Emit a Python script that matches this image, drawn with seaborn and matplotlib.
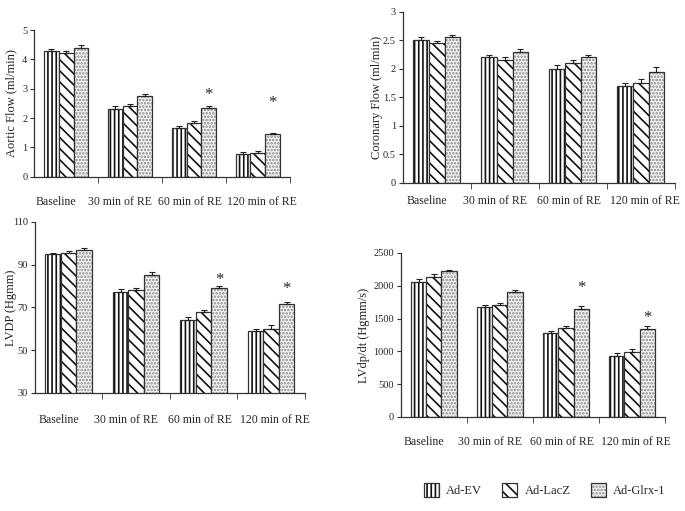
import numpy as np
import pandas as pd
import matplotlib
matplotlib.use("Agg")
import matplotlib.pyplot as plt
import matplotlib.colors as mcolors
from matplotlib.patches import Patch
from matplotlib.transforms import ScaledTranslation
import seaborn as sns

categories = ["Baseline", "30 min of RE", "60 min of RE", "120 min of RE"]
groups = ["Ad-EV", "Ad-LacZ", "Ad-Glrx-1"]

aortic_ev = [4.30, 2.32, 1.67, 0.78]
aortic_lacz = [4.23, 2.42, 1.82, 0.82]
aortic_glrx = [4.40, 2.75, 2.33, 1.45]
aortic_err = [[0.07, 0.08, 0.06, 0.05], [0.06, 0.06, 0.08, 0.05], [0.08, 0.09, 0.09, 0.06]]
aortic_star = [None, None, 2.78, 2.5]

coronary_ev = [2.50, 2.20, 2.00, 1.70]
coronary_lacz = [2.46, 2.15, 2.10, 1.75]
coronary_glrx = [2.55, 2.30, 2.20, 1.95]
coronary_err = [[0.05, 0.04, 0.07, 0.06], [0.03, 0.05, 0.05, 0.08], [0.05, 0.04, 0.05, 0.09]]
coronary_star = [None, None, None, None]

lvdp_ev = [95.0, 77.0, 64.0, 59.0]
lvdp_lacz = [95.5, 78.0, 68.0, 60.0]
lvdp_glrx = [97.0, 85.0, 79.0, 71.5]
lvdp_err = [[0.6, 1.5, 1.3, 0.8], [1.0, 0.9, 0.6, 1.8], [0.8, 1.5, 0.9, 1.2]]
lvdp_star = [None, None, 83.0, 78.5]

dpdt_ev = [2060, 1680, 1280, 930]
dpdt_lacz = [2130, 1710, 1360, 990]
dpdt_glrx = [2220, 1900, 1650, 1340]
dpdt_err = [[40, 25, 30, 40], [50, 25, 30, 40], [25, 35, 40, 40]]
dpdt_star = [None, None, 1960, 1510]

panels = [
    dict(vals=[aortic_ev, aortic_lacz, aortic_glrx], err=aortic_err, star=aortic_star,
         ylabel="Aortic Flow (ml/min)", yticks=[0, 1, 2, 3, 4, 5], ylim=(0, 5),
         ticklabels=["0", "1", "2", "3", "4", "5"],
         rect=[0.050, 0.654, 0.373, 0.287], labx=-0.066, pad=14),
    dict(vals=[coronary_ev, coronary_lacz, coronary_glrx], err=coronary_err, star=coronary_star,
         ylabel="Coronary Flow (ml/min)", yticks=[0, 0.5, 1, 1.5, 2, 2.5, 3], ylim=(0, 3),
         ticklabels=["0", "0.5", "1", "1.5", "2", "2.5", "3"],
         rect=[0.588, 0.642, 0.397, 0.335], labx=-0.074, pad=9),
    dict(vals=[lvdp_ev, lvdp_lacz, lvdp_glrx], err=lvdp_err, star=lvdp_star,
         ylabel="LVDP (Hgmm)", yticks=[30, 50, 70, 90, 110], ylim=(30, 110),
         ticklabels=["30", "50", "70", "90", "110"],
         rect=[0.051, 0.231, 0.394, 0.335], labx=-0.067, pad=15),
    dict(vals=[dpdt_ev, dpdt_lacz, dpdt_glrx], err=dpdt_err, star=dpdt_star,
         ylabel="LVdp/dt (Hgmm/s)", yticks=[0, 500, 1000, 1500, 2000, 2500], ylim=(0, 2500),
         ticklabels=["0", "500", "1000", "1500", "2000", "2500"],
         rect=[0.585, 0.184, 0.386, 0.321], labx=-0.117, pad=14),
]

sns.set_style("ticks")
plt.rcParams["font.family"] = ["Liberation Serif", "DejaVu Serif"]
plt.rcParams["hatch.linewidth"] = 1.2

hatches = ["||||", "\\\\\\", "....."]
hatch_colors = ["#111111", "#111111", "#8a8a8a"]
faces = ["white", "white", "#f4f4f4"]
edge = "#333333"
label_shift_px = [-10, -10, -4, 4]

fig = plt.figure(figsize=(6.85, 5.11), dpi=100)

for p in panels:
    ax = fig.add_axes(p["rect"])
    rows = []
    for g, v in zip(groups, p["vals"]):
        for c, val in zip(categories, v):
            rows.append(dict(cat=c, group=g, value=val))
    df = pd.DataFrame(rows)
    sns.barplot(data=df, x="cat", y="value", hue="group", order=categories,
                hue_order=groups, errorbar=None, width=0.69, gap=0,
                palette=faces, legend=False, ax=ax)
    bar_conts = list(ax.containers)
    for gi, cont in enumerate(bar_conts):
        xs, tops = [], []
        for bar in cont.patches:
            bar.set_hatch(hatches[gi])
            bar.set_edgecolor(edge)
            bar.set_linewidth(0.9)
            bar._hatch_color = mcolors.to_rgba(hatch_colors[gi])
            xs.append(bar.get_x() + bar.get_width() / 2)
            tops.append(bar.get_y() + bar.get_height())
        e = p["err"][gi]
        ax.errorbar(xs, tops, yerr=[np.zeros(len(e)), e], fmt="none",
                    ecolor="#222222", elinewidth=0.8, capsize=2.2, capthick=0.8)
        if gi == 2:
            for x, s in zip(xs, p["star"]):
                if s is not None:
                    ax.text(x, s, "*", ha="center", va="center", fontsize=12)
    ax.set_xlim(-0.5, 3.5)
    ax.set_ylim(*p["ylim"])
    ax.set_yticks(p["yticks"])
    ax.set_yticklabels(p["ticklabels"], fontsize=7.5)
    ax.set_xlabel("")
    ax.set_ylabel(p["ylabel"], fontsize=9, color="#222222")
    ax.yaxis.set_label_coords(p["labx"], 0.5)
    ax.tick_params(axis="x", length=0, pad=p["pad"], labelsize=8.5)
    ax.set_xticks([0.5, 1.5, 2.5, 3.5], minor=True)
    ax.tick_params(axis="x", which="minor", length=4, direction="out", color=edge)
    ax.tick_params(axis="y", length=3, direction="out", color=edge, pad=2)
    for lab, sh in zip(ax.get_xticklabels(), label_shift_px):
        lab.set_transform(lab.get_transform() + ScaledTranslation(sh / 100, 0, fig.dpi_scale_trans))
    for s in ["top", "right"]:
        ax.spines[s].set_visible(False)
    for s in ["left", "bottom"]:
        ax.spines[s].set_color(edge)
        ax.spines[s].set_linewidth(0.9)

handles = []
for gi, g in enumerate(groups):
    h = Patch(facecolor=faces[gi], edgecolor=edge,
              hatch=hatches[gi], label=g, linewidth=0.9)
    h._hatch_color = mcolors.to_rgba(hatch_colors[gi])
    handles.append(h)
fig.legend(handles=handles, loc="center", bbox_to_anchor=(0.795, 0.041), ncol=3,
           frameon=False, fontsize=9, handlelength=1.2, handleheight=1.4,
           columnspacing=1.6, handletextpad=0.6)

fig.savefig("out.png", dpi=100)
